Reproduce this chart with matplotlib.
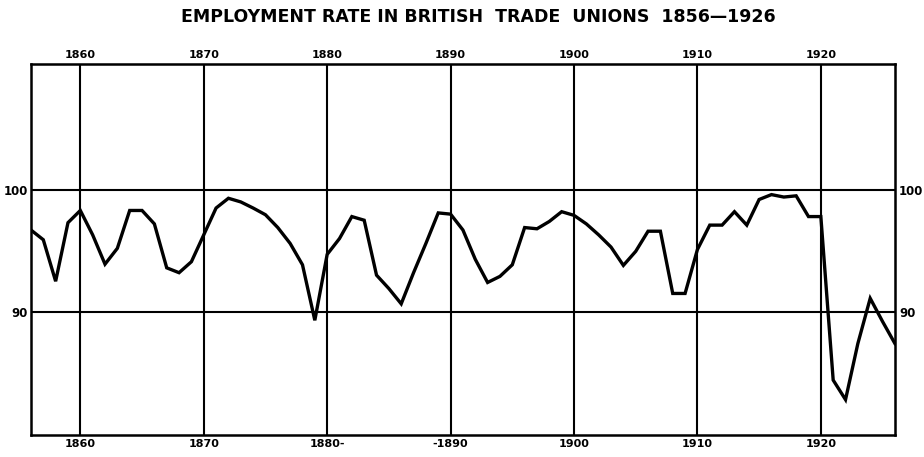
import matplotlib.pyplot as plt

# employment rate (%), one value per year
years = list(range(1856, 1927))
rate = [
    96.7, 95.9, 92.5, 97.3, 98.3, 96.3, 93.9, 95.2, 98.3, 98.3,   # 1856-1865
    97.2, 93.6, 93.2, 94.1, 96.3, 98.5, 99.3, 99.0, 98.5, 97.95,  # 1866-1875
    96.9, 95.6, 93.85, 89.3, 94.7, 96.0, 97.8, 97.5, 93.0, 91.9,  # 1876-1885
    90.65, 93.2, 95.6, 98.1, 98.0, 96.7, 94.3, 92.4, 92.9, 93.85, # 1886-1895
    96.9, 96.8, 97.4, 98.2, 97.9, 97.2, 96.3, 95.3, 93.8, 94.95,  # 1896-1905
    96.6, 96.6, 91.5, 91.5, 95.1, 97.1, 97.1, 98.2, 97.1, 99.2,   # 1906-1915
    99.6, 99.4, 99.5, 97.8, 97.8, 84.4, 82.8, 87.4, 91.1, 89.2,   # 1916-1925
    87.4,                                                          # 1926
]
decade_ticks = [1860, 1870, 1880, 1890, 1900, 1910, 1920]
bottom_labels = ["1860", "1870", "1880-", "-1890", "1900", "1910", "1920"]
top_labels = ["1860", "1870", "1880", "1890", "1900", "1910", "1920"]
rate_ticks = [90, 100]
rate_labels = ["90", "100"]

plt.rcParams['font.family'] = ['DejaVu Sans']

fig = plt.figure(figsize=(9.24, 4.57), dpi=100)
ax = fig.add_axes([0.0335, 0.0481, 0.935, 0.8118])

ax.plot(years, rate, color='black', linewidth=2.4, solid_joinstyle='miter', zorder=3)

ax.set_xlim(1856, 1926)
ax.set_ylim(79.9, 110.3)

for yr in decade_ticks:
    ax.axvline(yr, color='black', linewidth=1.5, zorder=1)
for r in rate_ticks:
    ax.axhline(r, color='black', linewidth=1.5, zorder=1)

for s in ax.spines.values():
    s.set_linewidth(1.8)

ax.set_xticks(decade_ticks)
ax.set_xticklabels(bottom_labels, fontsize=8, fontweight='bold')
ax.set_yticks(rate_ticks)
ax.set_yticklabels(rate_labels, fontsize=8.5, fontweight='bold')
ax.tick_params(axis='both', length=0, pad=3)
ax.tick_params(axis='y', pad=2)

top = ax.secondary_xaxis('top')
top.set_xticks(decade_ticks)
top.set_xticklabels(top_labels, fontsize=8, fontweight='bold')
top.tick_params(length=0, pad=3)

right = ax.secondary_yaxis('right')
right.set_yticks(rate_ticks)
right.set_yticklabels(rate_labels, fontsize=8.5, fontweight='bold')
right.tick_params(length=0, pad=3)

fig.text(0.518, 0.963, "EMPLOYMENT RATE IN BRITISH  TRADE  UNIONS  1856\u20141926",
         ha='center', va='center', fontsize=12.5, fontweight='bold')

fig.savefig('out.png', dpi=100, facecolor='white')
